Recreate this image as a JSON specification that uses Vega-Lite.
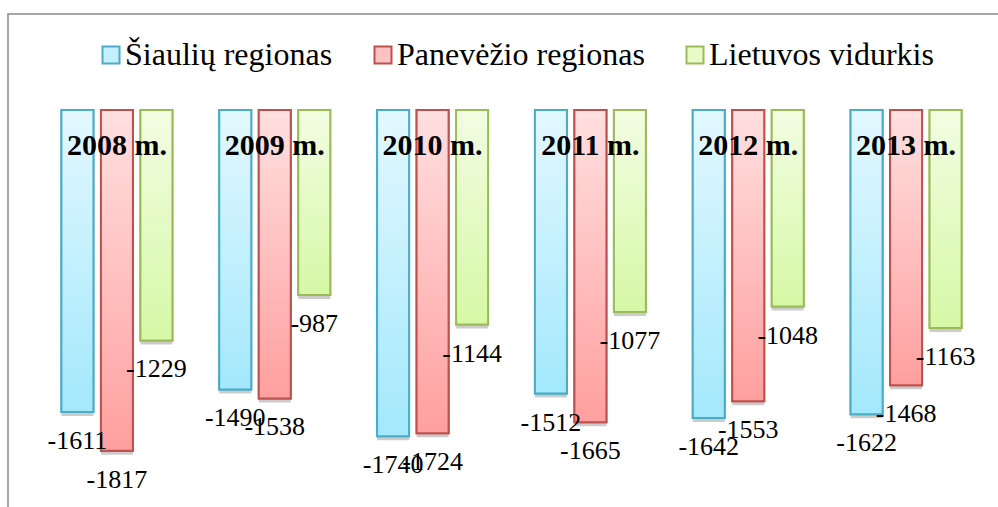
{
  "$schema": "https://vega.github.io/schema/vega-lite/v6.json",
  "autosize": "none",
  "padding": {"left": 8, "top": 14, "right": 0, "bottom": 0},
  "width": 1000,
  "height": 520,
  "background": "white",
  "config": {
    "view": {"stroke": "#8a8a8a", "strokeWidth": 1.5},
    "font": "Liberation Serif, Times New Roman, serif",
    "text": {"font": "Liberation Serif, Times New Roman, serif"},
    "legend": {
      "orient": "none",
      "legendX": 87,
      "legendY": 25,
      "direction": "horizontal",
      "columns": 3,
      "labelFont": "Liberation Serif, Times New Roman, serif",
      "labelFontSize": 32,
      "labelColor": "black",
      "labelLimit": 0,
      "symbolType": "square",
      "symbolSize": 289,
      "symbolStrokeWidth": 2,
      "labelOffset": -2,
      "columnPadding": 34,
      "padding": 0
    }
  },
  "data": {
    "values": [
      {"year": "2008 m.", "series": "Šiaulių regionas", "value": -1611},
      {"year": "2008 m.", "series": "Panevėžio regionas", "value": -1817},
      {"year": "2008 m.", "series": "Lietuvos vidurkis", "value": -1229},
      {"year": "2009 m.", "series": "Šiaulių regionas", "value": -1490},
      {"year": "2009 m.", "series": "Panevėžio regionas", "value": -1538},
      {"year": "2009 m.", "series": "Lietuvos vidurkis", "value": -987},
      {"year": "2010 m.", "series": "Šiaulių regionas", "value": -1740},
      {"year": "2010 m.", "series": "Panevėžio regionas", "value": -1724},
      {"year": "2010 m.", "series": "Lietuvos vidurkis", "value": -1144},
      {"year": "2011 m.", "series": "Šiaulių regionas", "value": -1512},
      {"year": "2011 m.", "series": "Panevėžio regionas", "value": -1665},
      {"year": "2011 m.", "series": "Lietuvos vidurkis", "value": -1077},
      {"year": "2012 m.", "series": "Šiaulių regionas", "value": -1642},
      {"year": "2012 m.", "series": "Panevėžio regionas", "value": -1553},
      {"year": "2012 m.", "series": "Lietuvos vidurkis", "value": -1048},
      {"year": "2013 m.", "series": "Šiaulių regionas", "value": -1622},
      {"year": "2013 m.", "series": "Panevėžio regionas", "value": -1468},
      {"year": "2013 m.", "series": "Lietuvos vidurkis", "value": -1163}
    ]
  },
  "encoding": {
    "x": {
      "field": "year",
      "type": "nominal",
      "axis": null,
      "scale": {"paddingInner": 0, "paddingOuter": 0.168, "align": 0.566}
    },
    "y": {
      "field": "value",
      "type": "quantitative",
      "axis": null,
      "scale": {"domain": [-2261, 512], "nice": false, "zero": false}
    }
  },
  "layer": [
    {
      "mark": {"type": "bar", "fill": "#000000", "opacity": 0.2, "yOffset": 4},
      "encoding": {
        "xOffset": {
          "field": "series",
          "type": "nominal",
          "sort": ["Šiaulių regionas", "Panevėžio regionas", "Lietuvos vidurkis"],
          "scale": {"domain": ["Šiaulių regionas", "Panevėžio regionas", "Lietuvos vidurkis"], "paddingInner": 0.19, "paddingOuter": 0.593}
        },
        "y2": {"datum": 0}
      }
    },
    {
      "mark": {"type": "bar", "strokeWidth": 2, "clip": false},
      "encoding": {
        "xOffset": {"field": "series", "type": "nominal"},
        "y2": {"datum": 0},
        "color": {
          "field": "series",
          "type": "nominal",
          "title": null,
          "scale": {
            "domain": ["Šiaulių regionas", "Panevėžio regionas", "Lietuvos vidurkis"],
            "range": ["#c4f0fd", "#ffc2c2", "#e6fbc6"]
          }
        },
        "stroke": {
          "field": "series",
          "type": "nominal",
          "title": null,
          "scale": {
            "domain": ["Šiaulių regionas", "Panevėžio regionas", "Lietuvos vidurkis"],
            "range": ["#4bacc6", "#c0504d", "#9bbb59"]
          }
        }
      }
    },
    {
      "transform": [{"filter": "datum.series == 'Šiaulių regionas'"}],
      "mark": {"type": "bar", "strokeWidth": 2, "stroke": "#4bacc6",
        "fill": {"gradient": "linear", "x1": 0, "y1": 0, "x2": 0, "y2": 1, "stops": [{"offset": 0, "color": "#e3f8ff"}, {"offset": 1, "color": "#a3e8fc"}]}},
      "encoding": {
        "xOffset": {"field": "series", "type": "nominal"},
        "y2": {"datum": 0}
      }
    },
    {
      "transform": [{"filter": "datum.series == 'Panevėžio regionas'"}],
      "mark": {"type": "bar", "strokeWidth": 2, "stroke": "#c0504d",
        "fill": {"gradient": "linear", "x1": 0, "y1": 0, "x2": 0, "y2": 1, "stops": [{"offset": 0, "color": "#ffe0e0"}, {"offset": 1, "color": "#ff9f9f"}]}},
      "encoding": {
        "xOffset": {"field": "series", "type": "nominal"},
        "y2": {"datum": 0}
      }
    },
    {
      "transform": [{"filter": "datum.series == 'Lietuvos vidurkis'"}],
      "mark": {"type": "bar", "strokeWidth": 2, "stroke": "#9bbb59",
        "fill": {"gradient": "linear", "x1": 0, "y1": 0, "x2": 0, "y2": 1, "stops": [{"offset": 0, "color": "#f2fde2"}, {"offset": 1, "color": "#d6f8a6"}]}},
      "encoding": {
        "xOffset": {"field": "series", "type": "nominal"},
        "y2": {"datum": 0}
      }
    },
    {
      "mark": {"type": "text", "baseline": "alphabetic", "align": "center", "dy": 37, "fontSize": 26, "font": "Liberation Serif, Times New Roman, serif", "color": "black"},
      "encoding": {
        "xOffset": {"field": "series", "type": "nominal"},
        "text": {"field": "value", "type": "nominal"}
      }
    },
    {
      "transform": [{"filter": "datum.series == 'Šiaulių regionas'"}],
      "mark": {"type": "text", "baseline": "alphabetic", "align": "center", "dy": 45, "fontSize": 30, "fontWeight": "bold", "font": "Liberation Serif, Times New Roman, serif", "color": "black"},
      "encoding": {
        "y": {"datum": 0},
        "text": {"field": "year", "type": "nominal"}
      }
    },
    {
      "transform": [{"filter": "datum.series == 'Šiaulių regionas'"}, {"aggregate": [{"op": "count", "as": "n"}]}],
      "mark": {"type": "rule", "color": "#a0a0a0", "strokeWidth": 1.5},
      "encoding": {
        "x": {"datum": "2008 m.", "bandPosition": 0},
        "x2": {"datum": "2013 m.", "bandPosition": 1},
        "y": {"datum": 0}
      }
    }
  ]
}
